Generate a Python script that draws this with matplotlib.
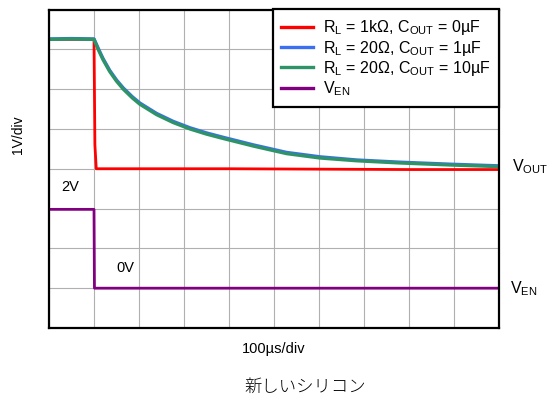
import matplotlib
matplotlib.use("Agg")
import matplotlib.pyplot as plt

plt.rcParams['font.family'] = ['Liberation Sans', 'DejaVu Sans']
plt.rcParams['mathtext.fontset'] = 'custom'
plt.rcParams['mathtext.rm'] = 'Liberation Sans'

# time in microseconds, voltage in divisions (1V/div)
t_red = [0, 100, 102, 105, 200, 400, 600, 800, 1000]
v_red = [7.25, 7.25, 4.6, 4.0, 4.0, 4.0, 3.99, 3.98, 3.98]

t_slow = [0, 50, 100, 110, 120, 135, 150, 165, 185, 202, 239, 276, 313, 350, 387,
          454, 528, 602, 684, 780, 891, 995, 1000]
v_green = [7.25, 7.26, 7.25, 6.98, 6.74, 6.44, 6.20, 6.00, 5.78, 5.62, 5.36, 5.16, 5.00, 4.87, 4.76,
           4.57, 4.38, 4.27, 4.20, 4.145, 4.095, 4.055, 4.05]
v_blue = [7.26, 7.27, 7.26, 7.01, 6.77, 6.47, 6.23, 6.03, 5.81, 5.65, 5.39, 5.19, 5.03, 4.90, 4.79,
          4.60, 4.41, 4.30, 4.22, 4.165, 4.115, 4.075, 4.07]

t_en = [0, 100, 101, 1000]
v_en = [2.98, 2.98, 1.0, 1.0]

labels = ['R$_\\mathregular{L}$ = 1kΩ, C$_\\mathregular{OUT}$ = 0µF',
          'R$_\\mathregular{L}$ = 20Ω, C$_\\mathregular{OUT}$ = 1µF',
          'R$_\\mathregular{L}$ = 20Ω, C$_\\mathregular{OUT}$ = 10µF',
          'V$_\\mathregular{EN}$']
colors = ['#ff0000', '#3a6ff0', '#2e9467', '#800080']

fig = plt.figure(figsize=(5.49, 4.01), dpi=100)
ax = fig.add_axes([49 / 549, 73 / 401, 450 / 549, 318.5 / 401])

ax.plot(t_red, v_red, color=colors[0], lw=2.0, label=labels[0])
ax.plot(t_slow, v_blue, color=colors[1], lw=2.4, label=labels[1])
ax.plot(t_slow, v_green, color=colors[2], lw=2.4, label=labels[2])
ax.plot(t_en, v_en, color=colors[3], lw=2.0, label=labels[3])

ax.set_xlim(0, 1000)
ax.set_ylim(0, 8)
ax.set_xticks(range(0, 1001, 100))
ax.set_yticks(range(0, 9))
ax.tick_params(length=0, labelbottom=False, labelleft=False)
ax.grid(True, color='#b0b0b0', lw=0.8)
ax.set_axisbelow(True)
for s in ax.spines.values():
    s.set_linewidth(1.6)
    s.set_color('black')

leg = ax.legend(loc='upper right', borderaxespad=0, fontsize=11.5, handlelength=2.0,
                handletextpad=0.6, labelspacing=0.08, fancybox=False, framealpha=1,
                edgecolor='black', borderpad=0.55)
leg.get_frame().set_linewidth(1.6)
for h in leg.get_lines():
    h.set_linewidth(2.4)

ax.text(47, 3.53, '2V', fontsize=10.5, ha='center', va='center')
ax.text(169, 1.5, '0V', fontsize=10.5, ha='center', va='center')
ax.text(1029, 4.05, 'V$_\\mathregular{OUT}$', fontsize=11.5, ha='left', va='center', clip_on=False)
ax.text(1025, 1.0, 'V$_\\mathregular{EN}$', fontsize=11.5, ha='left', va='center', clip_on=False)

fig.text(18 / 549, 1 - 135 / 401, '1V/div', rotation=90, fontsize=10, ha='center', va='center')
fig.text(274 / 549, 1 - 349 / 401, '100µs/div', fontsize=10.5, ha='center', va='center')
fig.text(305 / 549, 1 - 387 / 401, '新しいシリコン', fontsize=12.5, ha='center', va='center',
         family=['Noto Sans CJK JP', 'DejaVu Sans'], fontweight='light')

fig.savefig('out.png', dpi=100)
